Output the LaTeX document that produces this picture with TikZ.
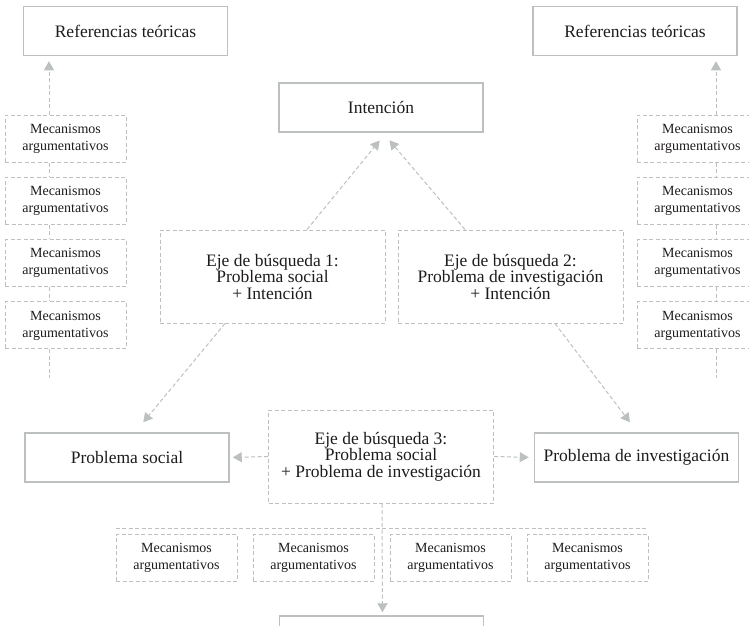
\documentclass[tikz,border=0pt]{standalone}
\usepackage{fontspec}
\setmainfont{Liberation Serif}
\usepackage{tikz}
\usetikzlibrary{arrows.meta}
\definecolor{linegray}{RGB}{188,192,192}
\definecolor{textdark}{RGB}{30,27,28}

\begin{document}
\begin{tikzpicture}[x=1pt,y=-1pt,
  box/.style={draw=linegray,line width=1.5pt,text=textdark,minimum width=204pt,
    minimum height=49pt,inner sep=0pt,font=\fontsize{17.5}{16.5}\selectfont},
  dbox/.style={draw=linegray,dash pattern=on 4pt off 2.5pt,line width=1pt,text=textdark,
    align=center,minimum width=225pt,minimum height=93pt,inner sep=0pt,
    font=\fontsize{17.5}{16.5}\selectfont},
  mec/.style={dbox,minimum width=121pt,minimum height=47pt,font=\fontsize{14}{17}\selectfont},
  dline/.style={draw=linegray,dash pattern=on 4pt off 2.5pt,line width=1pt},
  arr/.style={dline,color=linegray,-{Triangle[width=10pt,length=9pt]}}]
  \useasboundingbox (0,0) rectangle (749,625);
  \clip (0,0) rectangle (749,625);

  % Top: references and intention
  \node[box] (refL) at (125.5,31) {Referencias teóricas};
  \node[box] (refR) at (635,31) {Referencias teóricas};
  \node[box] (int) at (381,107.5) {Intención};

  % Left: stack of mechanisms
  \coordinate (ltail) at (49,378);
  \foreach \i in {1,...,4}
    \node[mec] (lmec\i) at (65.5,{138.5+62.3*(\i-1)}) {Mecanismos\\argumentativos};
  \draw[arr,shorten >=5pt] (lmec1.north -| ltail) -- (refL.south -| ltail);
  \foreach \i [count=\j from 2] in {1,2,3}
    \draw[dline] (lmec\i.south -| ltail) -- (lmec\j.north -| ltail);
  \draw[dline] (lmec4.south -| ltail) -- (ltail);

  % Right: stack of mechanisms
  \coordinate (rtail) at (716,378);
  \foreach \i in {1,...,4}
    \node[mec] (rmec\i) at (697.5,{138.5+62.3*(\i-1)}) {Mecanismos\\argumentativos};
  \draw[arr,shorten >=5pt] (rmec1.north -| rtail) -- (refR.south -| rtail);
  \foreach \i [count=\j from 2] in {1,2,3}
    \draw[dline] (rmec\i.south -| rtail) -- (rmec\j.north -| rtail);
  \draw[dline] (rmec4.south -| rtail) -- (rtail);

  % Search axes
  \node[dbox] (eje1) at (272.5,276.5) {Eje de búsqueda 1:\\Problema social\\+ Intención};
  \node[dbox] (eje2) at (510.5,276.5) {Eje de búsqueda 2:\\Problema de investigación\\+ Intención};
  \node[dbox] (eje3) at (381,456.5) {Eje de búsqueda 3:\\Problema social\\+ Problema de investigación};
  \node[box] (probsoc) at (127,457.5) {Problema social};
  \node[box] (probinv) at (636.5,457.5) {Problema de investigación};

  \draw[arr,shorten >=10pt] ([xshift=34.5pt]eje1.north) -- ([xshift=5pt]int.south);
  \draw[arr,shorten >=10pt] ([xshift=-45.5pt]eje2.north) -- ([xshift=2pt]int.south);
  \draw[arr,shorten >=13pt] ([xshift=-47.5pt]eje1.south) -- ([xshift=8pt]probsoc.north);
  \draw[arr,shorten >=12.5pt] ([xshift=44.5pt]eje2.south) -- ([xshift=1pt]probinv.north);
  \draw[arr,shorten >=3pt] (eje3.west) -- (probsoc.east);
  \draw[arr,shorten >=5pt] (eje3.east) -- (probinv.west);

  % Bottom: row of mechanisms
  \foreach \i in {1,...,4}
    \node[mec] (bmec\i) at ({176.5+137*(\i-1)},558) {Mecanismos\\argumentativos};
  \draw[dline] ([yshift=6pt]bmec1.north west) -- ([yshift=6pt]bmec4.north east);
  \node[box] (bottom) at (381.5,640.5) {};
  \draw[arr,shorten >=3pt] ([xshift=1pt]eje3.south) -- ([xshift=1pt]bottom.north);
\end{tikzpicture}
\end{document}
